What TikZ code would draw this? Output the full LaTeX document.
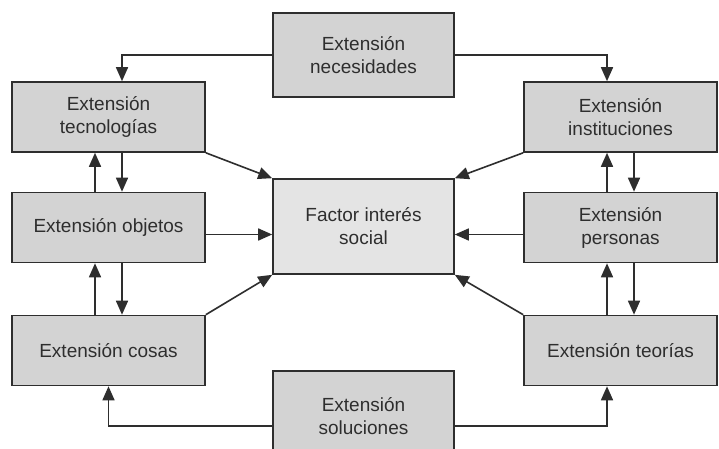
\documentclass[tikz,border=0pt]{standalone}
\usepackage{fontspec}
\setmainfont{Liberation Sans}
\usetikzlibrary{arrows.meta}
\definecolor{boxfill}{HTML}{D3D3D3}
\definecolor{factfill}{HTML}{E4E4E4}
\definecolor{ink}{HTML}{2E2E2E}
\tikzset{
  sidebox/.style={draw=ink, line width=1.6pt, fill=boxfill, minimum width=193pt, minimum height=70pt, inner sep=0pt, align=center, text=ink, font=\fontsize{19}{23}\selectfont},
  midbox/.style={sidebox, minimum width=181pt},
  arr/.style={draw=ink, line width=1.6pt, -{Triangle[length=14pt,width=12pt]}}
}
\begin{document}
\begin{tikzpicture}[x=1pt,y=-1pt]
\useasboundingbox (0,0) rectangle (719,449);
\clip (0,0) rectangle (719,449);
\fill[white] (0,0) rectangle (719,449);
\node[midbox, minimum height=84pt] (nec) at (363.5,55) {Extensión\\necesidades};
\node[midbox, minimum height=95pt, fill=factfill] (fac) at (363.5,226.5) {Factor interés\\social};
\node[midbox, minimum height=90pt] (sol) at (363.5,416) {Extensión\\soluciones};
\node[sidebox] (tec) at (108.5,117) {Extensión\\tecnologías};
\node[sidebox] (obj) at (108.5,227.5) {Extensión objetos};
\node[sidebox] (cos) at (108.5,350.5) {Extensión cosas};
\node[sidebox] (ins) at (620.5,117) {Extensión\\instituciones};
\node[sidebox] (per) at (620.5,227.5) {Extensión\\personas};
\node[sidebox] (teo) at (620.5,350.5) {Extensión teorías};
% necesidades
\draw[arr] (nec.west) -| ([xshift=13.5pt]tec.north);
\draw[arr] (nec.east) -| ([xshift=-13.5pt]ins.north);
% soluciones
\draw[arr] ([yshift=-10pt]sol.west) -| (cos.south);
\draw[arr] ([yshift=-10pt]sol.east) -| ([xshift=-13.5pt]teo.south);
% left column
\draw[arr] ([xshift=-13.5pt]obj.north) -- ([xshift=-13.5pt]tec.south);
\draw[arr] ([xshift=13.5pt]tec.south) -- ([xshift=13.5pt]obj.north);
\draw[arr] ([xshift=-13.5pt]cos.north) -- ([xshift=-13.5pt]obj.south);
\draw[arr] ([xshift=13.5pt]obj.south) -- ([xshift=13.5pt]cos.north);
% right column
\draw[arr] ([xshift=-13.5pt]per.north) -- ([xshift=-13.5pt]ins.south);
\draw[arr] ([xshift=13.5pt]ins.south) -- ([xshift=13.5pt]per.north);
\draw[arr] ([xshift=-13.5pt]teo.north) -- ([xshift=-13.5pt]per.south);
\draw[arr] ([xshift=13.5pt]per.south) -- ([xshift=13.5pt]teo.north);
% to factor
\draw[arr] (tec.south east) -- (fac.north west);
\draw[arr] ([yshift=-7pt]obj.east) -- ([yshift=-7pt]obj.east -| fac.west);
\draw[arr] (cos.north east) -- (fac.south west);
\draw[arr] (ins.south west) -- (fac.north east);
\draw[arr] ([yshift=-7pt]per.west) -- ([yshift=-7pt]per.west -| fac.east);
\draw[arr] (teo.north west) -- (fac.south east);
\end{tikzpicture}
\end{document}
